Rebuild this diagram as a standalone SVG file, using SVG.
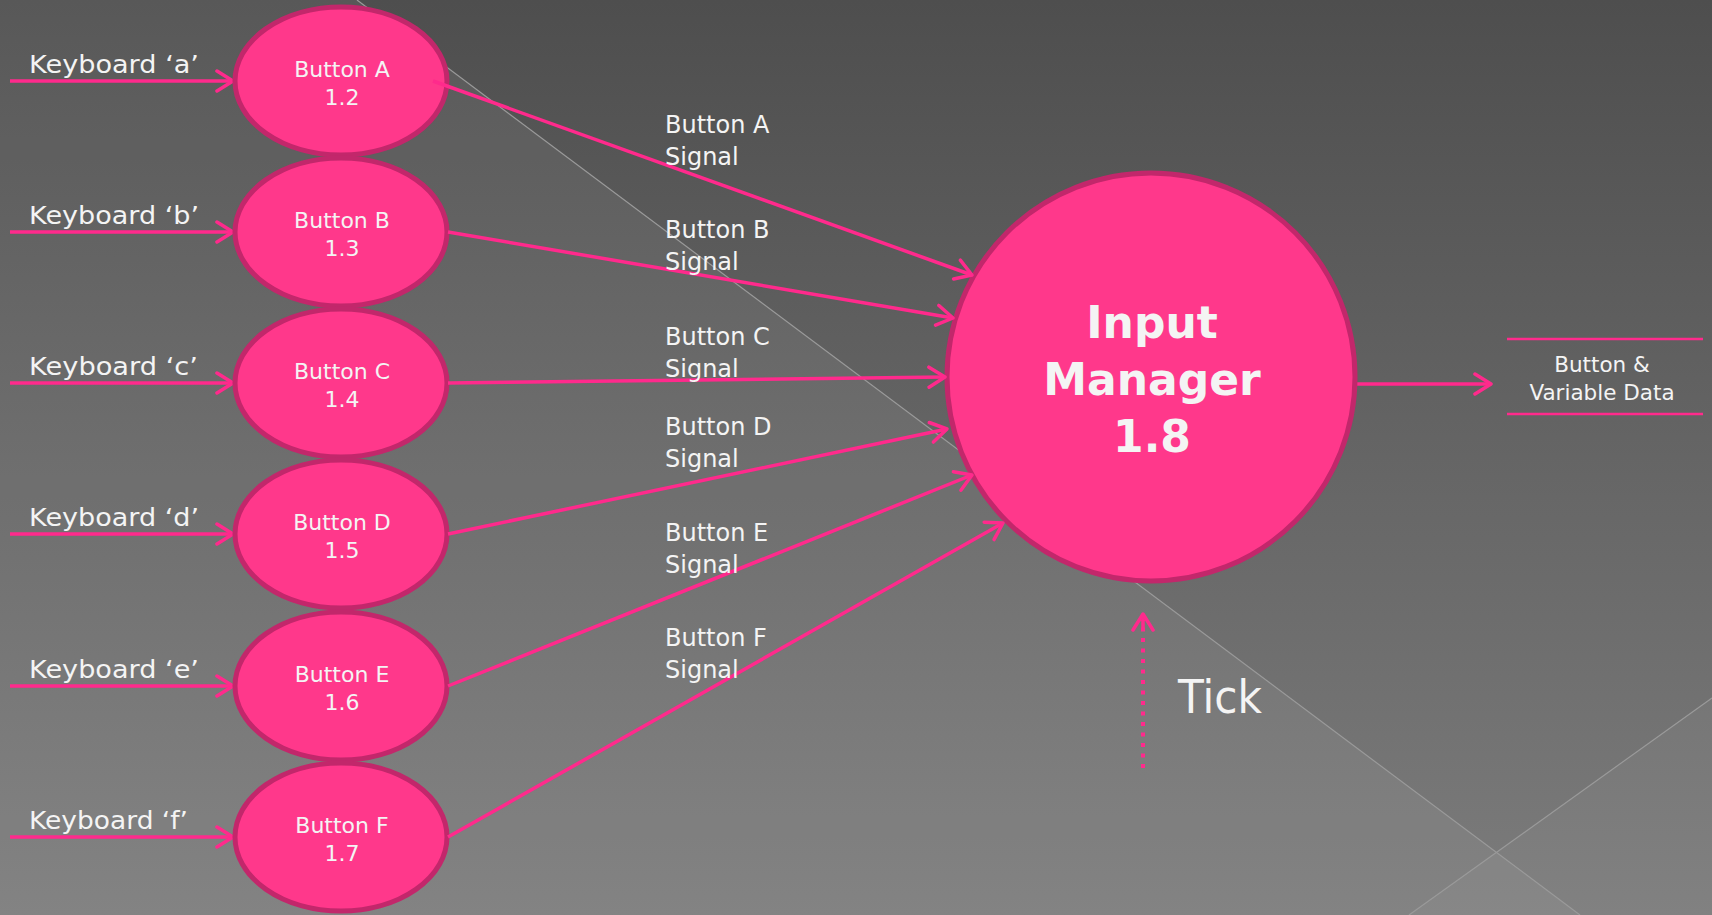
<svg xmlns="http://www.w3.org/2000/svg" width="1712" height="915" viewBox="0 0 1712 915">
<style>
.t{font-family:"DejaVu Sans","Liberation Sans",sans-serif;fill:#f4f4f4}
.kb{font-size:24.5px}
.bt{font-size:22px;text-anchor:middle}
.sg{font-size:24px}
.btn{fill:#ff388b;stroke:#c2276b;stroke-width:5}
.cn{stroke:#ff2a8c;stroke-width:3.5;fill:none;marker-end:url(#ah)}
.bg{stroke:#9a9a9a;stroke-width:1.2;fill:none}
</style>
<defs>
<linearGradient id="g" x1="0" y1="0" x2="0" y2="1">
<stop offset="0" stop-color="#4e4e4e"/>
<stop offset="1" stop-color="#7c7c7c"/>
</linearGradient>
<marker id="ah" markerUnits="userSpaceOnUse" markerWidth="24" markerHeight="26" refX="19" refY="12" orient="auto">
<path d="M3,2 L19,12 L3,22" fill="none" stroke="#ff2a8c" stroke-width="3.5" stroke-linecap="round" stroke-linejoin="round"/>
</marker>
</defs>
<g id="background">
<rect width="1712" height="915" fill="url(#g)"/>
<polygon points="0,0 357,0 1580,915 0,915" fill="#ffffff" fill-opacity="0.06"/>
<polygon points="1409,915 1712,698 1712,915" fill="#ffffff" fill-opacity="0.04"/>
<line class="bg" x1="357" y1="0" x2="1580" y2="915"/>
<line class="bg" x1="1409" y1="915" x2="1712" y2="698"/>
</g>
<g id="connectors">
<line class="cn" x1="10" y1="81" x2="233" y2="81"/>
<line class="cn" x1="10" y1="232" x2="233" y2="232"/>
<line class="cn" x1="10" y1="383" x2="233" y2="383"/>
<line class="cn" x1="10" y1="534" x2="233" y2="534"/>
<line class="cn" x1="10" y1="686" x2="233" y2="686"/>
<line class="cn" x1="10" y1="837" x2="233" y2="837"/>
<line class="cn" x1="1355" y1="384" x2="1491" y2="384"/>
<line x1="1143" y1="768" x2="1143" y2="620" stroke="#ff2a8c" stroke-width="4" stroke-dasharray="4 6.5"/>
<line x1="1143" y1="630" x2="1143" y2="614" class="cn"/>
</g>
<g id="btnA"><ellipse class="btn" cx="341" cy="81" rx="106" ry="74"/><text class="t bt" x="342" y="77">Button A</text><text class="t bt" x="342" y="105">1.2</text></g>
<g id="btnB"><ellipse class="btn" cx="341" cy="232" rx="106" ry="74"/><text class="t bt" x="342" y="228">Button B</text><text class="t bt" x="342" y="256">1.3</text></g>
<g id="btnC"><ellipse class="btn" cx="341" cy="383" rx="106" ry="74"/><text class="t bt" x="342" y="379">Button C</text><text class="t bt" x="342" y="407">1.4</text></g>
<g id="btnD"><ellipse class="btn" cx="341" cy="534" rx="106" ry="74"/><text class="t bt" x="342" y="530">Button D</text><text class="t bt" x="342" y="558">1.5</text></g>
<g id="btnE"><ellipse class="btn" cx="341" cy="686" rx="106" ry="74"/><text class="t bt" x="342" y="682">Button E</text><text class="t bt" x="342" y="710">1.6</text></g>
<g id="btnF"><ellipse class="btn" cx="341" cy="837" rx="106" ry="74"/><text class="t bt" x="342" y="833">Button F</text><text class="t bt" x="342" y="861">1.7</text></g>
<g id="input-manager"><circle class="btn" cx="1151" cy="377" r="204"/>
<text class="t" font-size="44" font-weight="bold" text-anchor="middle" x="1152" y="338">Input</text>
<text class="t" font-size="44" font-weight="bold" text-anchor="middle" x="1152" y="395">Manager</text>
<text class="t" font-size="44" font-weight="bold" text-anchor="middle" x="1152" y="452">1.8</text></g>
<g id="signals">
<line class="cn" x1="433" y1="81" x2="972" y2="275"/>
<line class="cn" x1="448" y1="232" x2="953" y2="318"/>
<line class="cn" x1="448" y1="383" x2="945" y2="377"/>
<line class="cn" x1="448" y1="534" x2="947" y2="429"/>
<line class="cn" x1="448" y1="686" x2="972" y2="475"/>
<line class="cn" x1="448" y1="837" x2="1003" y2="523"/>
</g>
<g id="labels">
<text class="t kb" x="29" y="73" textLength="170" lengthAdjust="spacingAndGlyphs">Keyboard ‘a’</text>
<text class="t kb" x="29" y="224" textLength="170" lengthAdjust="spacingAndGlyphs">Keyboard ‘b’</text>
<text class="t kb" x="29" y="375" textLength="169" lengthAdjust="spacingAndGlyphs">Keyboard ‘c’</text>
<text class="t kb" x="29" y="526" textLength="170" lengthAdjust="spacingAndGlyphs">Keyboard ‘d’</text>
<text class="t kb" x="29" y="678" textLength="170" lengthAdjust="spacingAndGlyphs">Keyboard ‘e’</text>
<text class="t kb" x="29" y="829" textLength="159" lengthAdjust="spacingAndGlyphs">Keyboard ‘f’</text>
<text class="t sg" x="665" y="133">Button A</text><text class="t sg" x="665" y="165">Signal</text>
<text class="t sg" x="665" y="238">Button B</text><text class="t sg" x="665" y="270">Signal</text>
<text class="t sg" x="665" y="345">Button C</text><text class="t sg" x="665" y="377">Signal</text>
<text class="t sg" x="665" y="435">Button D</text><text class="t sg" x="665" y="467">Signal</text>
<text class="t sg" x="665" y="541">Button E</text><text class="t sg" x="665" y="573">Signal</text>
<text class="t sg" x="665" y="646">Button F</text><text class="t sg" x="665" y="678">Signal</text>
<text class="t" font-size="46" x="1178" y="713" textLength="84" lengthAdjust="spacingAndGlyphs">Tick</text>
</g>
<g id="data-store">
<line x1="1507" y1="339" x2="1703" y2="339" stroke="#ff2a8c" stroke-width="2.5"/>
<line x1="1507" y1="414" x2="1703" y2="414" stroke="#ff2a8c" stroke-width="2.5"/>
<text class="t" font-size="21.5" text-anchor="middle" x="1602" y="372">Button &amp;</text>
<text class="t" font-size="21.5" text-anchor="middle" x="1602" y="400">Variable Data</text>
</g>
</svg>
